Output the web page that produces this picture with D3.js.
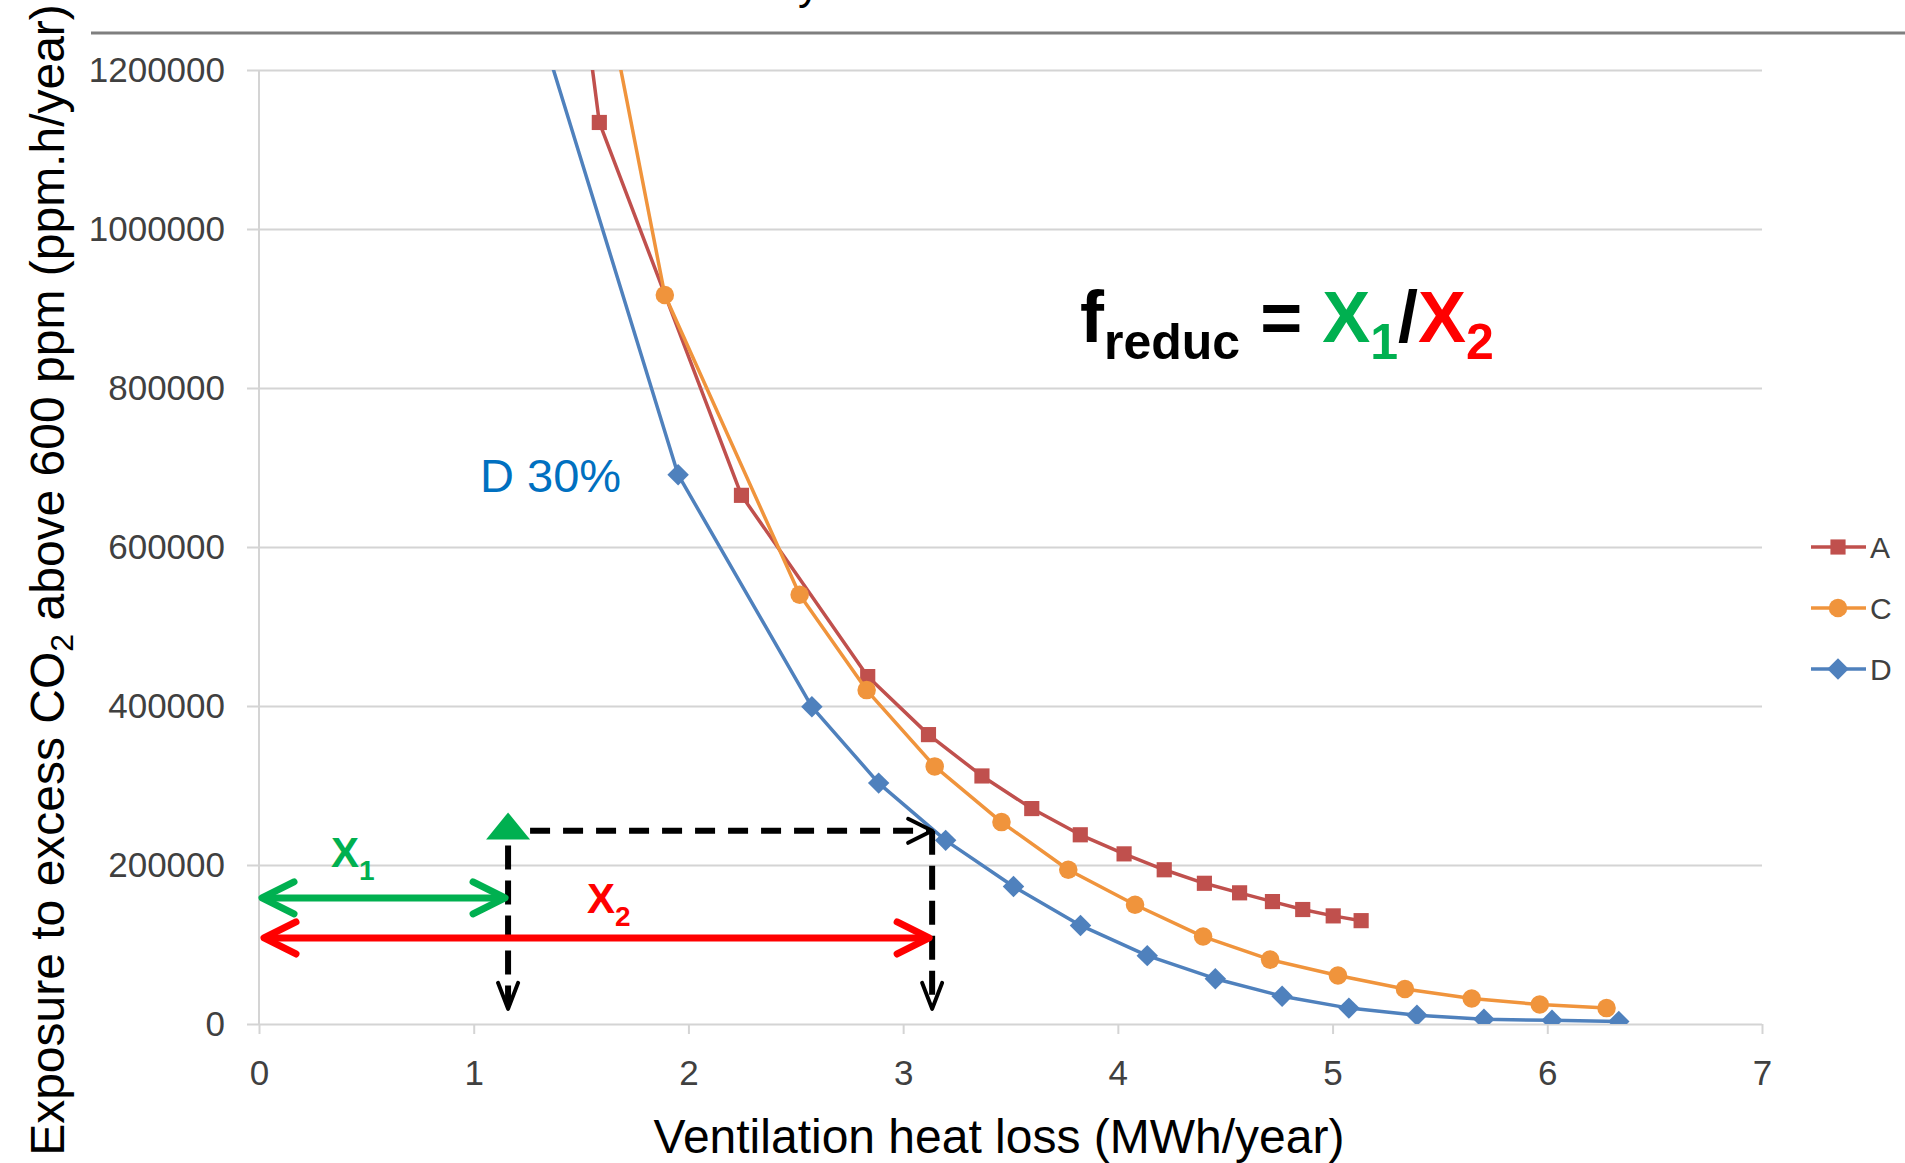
<!DOCTYPE html>
<html>
<head>
<meta charset="utf-8">
<script src="https://cdn.jsdelivr.net/npm/d3@7"></script>
<style>
  body { margin: 0; background: #fff; }
  text { font-family: "Liberation Sans", Arial, sans-serif; }
</style>
</head>
<body>
<div id="container"></div>
<script>
// series values (x = MWh/year, y = ppm.h/year)
let aX = [1.40, 1.585, 2.247, 2.835, 3.118, 3.367, 3.599, 3.825, 4.029, 4.216, 4.403, 4.567, 4.720, 4.861, 5.003, 5.133]
let aY = [1520000, 1134000, 665000, 437000, 364000, 312000, 271000, 238000, 214000, 194000, 177000, 165000, 154000, 144000, 136000, 130000]
let cX = [1.577, 1.890, 2.518, 2.830, 3.147, 3.458, 3.769, 4.080, 4.397, 4.709, 5.025, 5.337, 5.648, 5.965, 6.276]
let cY = [1350000, 917000, 540000, 420000, 324000, 254000, 194000, 150000, 110000, 81000, 61000, 44000, 32000, 24500, 20000]
let dX = [1.326, 1.952, 2.575, 2.886, 3.198, 3.514, 3.826, 4.137, 4.454, 4.765, 5.076, 5.393, 5.705, 6.022, 6.333]
let dY = [1240000, 691000, 399000, 303000, 231000, 173000, 124000, 86000, 57000, 35000, 20000, 11000, 6000, 4600, 3100]

let seriesNames = ['A', 'C', 'D']
let xTicks = [0, 1, 2, 3, 4, 5, 6, 7]
let yTicks = [0, 200000, 400000, 600000, 800000, 1000000, 1200000]

// annotation values (data units)
let x1 = 1.16, x2 = 3.135
let dashY = 243000, greenY = 158600, redY = 108200, arrowBottom = 19000, triY = 232000

let width = 1905, height = 1163
let margin = { top: 70, left: 259, right: 143, bottom: 139 }

let xScale = d3.scaleLinear().domain([0, 7]).range([margin.left, width - margin.right])
let yScale = d3.scaleLinear().domain([0, 1200000]).range([height - margin.bottom, margin.top])

let colors = { A: '#C0504D', C: '#F0943C', D: '#4F81BD' }
let series = [
  { name: 'A', pts: aX.map((x, i) => [x, aY[i]]), symbol: d3.symbolSquare, size: 230, rot: 0 },
  { name: 'C', pts: cX.map((x, i) => [x, cY[i]]), symbol: d3.symbolCircle, size: 270, rot: 0 },
  { name: 'D', pts: dX.map((x, i) => [x, dY[i]]), symbol: d3.symbolSquare, size: 230, rot: 45 }
]

let svg = d3.select('#container').append('svg')
  .attr('width', width).attr('height', height)

// slide header rule and cut-off title descender
svg.append('line')
  .attr('x1', 91).attr('x2', width).attr('y1', 33).attr('y2', 33)
  .attr('stroke', '#7f7f7f').attr('stroke-width', 3)
svg.append('text').text('y')
  .attr('x', 798).attr('y', -1).attr('font-size', 44).attr('fill', '#000')

svg.append('defs').append('clipPath').attr('id', 'plot')
  .append('rect')
  .attr('x', margin.left).attr('y', margin.top)
  .attr('width', xScale(7) - xScale(0)).attr('height', yScale(0) - yScale(1200000))

// gridlines + y axis
let yAxis = d3.axisLeft(yScale).tickValues(yTicks).tickFormat(d3.format('d'))
  .tickSize(-(xScale(7) - xScale(0)) - 12).tickPadding(14)
let gy = svg.append('g').attr('transform', 'translate(' + (margin.left - 12) + ',0)').call(yAxis)
gy.select('.domain').remove()
gy.selectAll('.tick line').attr('stroke', '#d4d4d4').attr('stroke-width', 2)
  .attr('x1', 0).attr('x2', xScale(7) - xScale(0) + 12)
gy.selectAll('.tick text').attr('font-size', 35).attr('fill', '#404040')
  .attr('font-family', '"Liberation Sans", Arial, sans-serif').attr('x', -22)

svg.append('line')
  .attr('x1', xScale(0)).attr('x2', xScale(0))
  .attr('y1', yScale(1200000)).attr('y2', yScale(0))
  .attr('stroke', '#d4d4d4').attr('stroke-width', 2)

let xAxis = d3.axisBottom(xScale).tickValues(xTicks).tickFormat(d3.format('d'))
  .tickSize(10).tickPadding(26)
let gx = svg.append('g').attr('transform', 'translate(0,' + yScale(0) + ')').call(xAxis)
gx.select('.domain').remove()
gx.selectAll('.tick line').attr('stroke', '#d4d4d4').attr('stroke-width', 2)
gx.selectAll('.tick text').attr('font-size', 35).attr('fill', '#404040')
  .attr('font-family', '"Liberation Sans", Arial, sans-serif')

// series
let line = d3.line().x(d => xScale(d[0])).y(d => yScale(d[1]))
let plot = svg.append('g').attr('clip-path', 'url(#plot)')
series.forEach(s => {
  plot.append('path').attr('d', line(s.pts))
    .attr('fill', 'none').attr('stroke', colors[s.name]).attr('stroke-width', 3.5)
    .attr('stroke-linejoin', 'round')
  plot.selectAll(null).data(s.pts).enter().append('path')
    .attr('d', d3.symbol().type(s.symbol).size(s.size))
    .attr('transform', d => 'translate(' + xScale(d[0]) + ',' + yScale(d[1]) + ') rotate(' + s.rot + ')')
    .attr('fill', colors[s.name])
})

// legend
let legend = svg.append('g')
series.forEach((s, i) => {
  let ly = 547 + i * 61
  legend.append('line').attr('x1', 1811).attr('x2', 1866).attr('y1', ly).attr('y2', ly)
    .attr('stroke', colors[s.name]).attr('stroke-width', 3.5)
  legend.append('path').attr('d', d3.symbol().type(s.symbol).size(s.size))
    .attr('transform', 'translate(1838,' + ly + ') rotate(' + s.rot + ')').attr('fill', colors[s.name])
  legend.append('text').text(s.name).attr('x', 1870).attr('y', ly + 11)
    .attr('font-size', 30).attr('fill', '#404040')
})

// axis titles
svg.append('text').text('Ventilation heat loss (MWh/year)')
  .attr('x', 999).attr('y', 1153).attr('text-anchor', 'middle')
  .attr('font-size', 48).attr('fill', '#000')

let yt = svg.append('text')
  .attr('transform', 'translate(64,580) rotate(-90)')
  .attr('text-anchor', 'middle').attr('font-size', 48).attr('fill', '#000')
yt.append('tspan').text('Exposure to excess CO')
yt.append('tspan').text('2').attr('font-size', 32).attr('dy', 9)
yt.append('tspan').text(' above 600 ppm (ppm.h/year)').attr('dy', -9)

// "D 30%" label
svg.append('text').text('D 30%')
  .attr('x', 480).attr('y', 492).attr('font-size', 47).attr('fill', '#0070C0')

// formula
let f = svg.append('text').attr('x', 1080).attr('y', 342)
  .attr('font-size', 72).attr('font-weight', 'bold')
f.append('tspan').text('f').attr('fill', '#000')
f.append('tspan').text('reduc').attr('font-size', 50).attr('dy', 17).attr('fill', '#000')
f.append('tspan').text(' = ').attr('dy', -17).attr('fill', '#000')
f.append('tspan').text('X').attr('fill', '#00B050')
f.append('tspan').text('1').attr('font-size', 50).attr('dy', 17).attr('fill', '#00B050')
f.append('tspan').text('/').attr('dy', -17).attr('fill', '#000')
f.append('tspan').text('X').attr('fill', '#FF0000')
f.append('tspan').text('2').attr('font-size', 50).attr('dy', 17).attr('fill', '#FF0000')

// annotation arrows
let ann = svg.append('g')
function chevron(x, y, dir, color, w, arm) {
  // dir: 'left', 'right', 'down'
  let p
  if (dir === 'right') p = [[x - arm, y - arm / 2], [x, y], [x - arm, y + arm / 2]]
  else if (dir === 'left') p = [[x + arm, y - arm / 2], [x, y], [x + arm, y + arm / 2]]
  else p = [[x - arm / 2.6, y - arm], [x, y], [x + arm / 2.6, y - arm]]
  ann.append('path').attr('d', d3.line()(p)).attr('fill', 'none')
    .attr('stroke', color).attr('stroke-width', w)
    .attr('stroke-linecap', 'round').attr('stroke-linejoin', 'round')
}

// dashed guides
ann.append('line')
  .attr('x1', xScale(x1) + 22).attr('x2', xScale(x2) - 4)
  .attr('y1', yScale(dashY)).attr('y2', yScale(dashY))
  .attr('stroke', '#000').attr('stroke-width', 6).attr('stroke-dasharray', '20,13')
chevron(xScale(x2), yScale(dashY), 'right', '#000', 4, 24)
ann.append('line')
  .attr('x1', xScale(x1)).attr('x2', xScale(x1))
  .attr('y1', yScale(triY) + 6).attr('y2', yScale(arrowBottom) - 4)
  .attr('stroke', '#000').attr('stroke-width', 6).attr('stroke-dasharray', '24,11')
chevron(xScale(x1), yScale(arrowBottom), 'down', '#000', 4, 26)
ann.append('line')
  .attr('x1', xScale(x2)).attr('x2', xScale(x2))
  .attr('y1', yScale(dashY)).attr('y2', yScale(arrowBottom) - 4)
  .attr('stroke', '#000').attr('stroke-width', 6).attr('stroke-dasharray', '24,11')
chevron(xScale(x2), yScale(arrowBottom), 'down', '#000', 4, 26)

// green triangle
ann.append('path')
  .attr('d', 'M0,-27 L22,0 L-22,0 Z')
  .attr('transform', 'translate(' + xScale(x1) + ',' + yScale(triY) + ')')
  .attr('fill', '#00B050')

// green double arrow (X1)
ann.append('line')
  .attr('x1', xScale(0) + 4).attr('x2', xScale(x1) - 4)
  .attr('y1', yScale(greenY)).attr('y2', yScale(greenY))
  .attr('stroke', '#00B050').attr('stroke-width', 7)
chevron(xScale(0) + 3, yScale(greenY), 'left', '#00B050', 7, 32)
chevron(xScale(x1) - 3, yScale(greenY), 'right', '#00B050', 7, 32)

// red double arrow (X2)
ann.append('line')
  .attr('x1', xScale(0) + 6).attr('x2', xScale(x2) - 4)
  .attr('y1', yScale(redY)).attr('y2', yScale(redY))
  .attr('stroke', '#FF0000').attr('stroke-width', 7)
chevron(xScale(0) + 5, yScale(redY), 'left', '#FF0000', 7, 32)
chevron(xScale(x2) - 3, yScale(redY), 'right', '#FF0000', 7, 32)

// X1 / X2 labels
let t1 = ann.append('text').attr('x', 331).attr('y', 867)
  .attr('font-size', 42).attr('font-weight', 'bold').attr('fill', '#00B050')
t1.append('tspan').text('X')
t1.append('tspan').text('1').attr('font-size', 28).attr('dy', 13)
let t2 = ann.append('text').attr('x', 587).attr('y', 913)
  .attr('font-size', 42).attr('font-weight', 'bold').attr('fill', '#FF0000')
t2.append('tspan').text('X')
t2.append('tspan').text('2').attr('font-size', 28).attr('dy', 13)
</script>
</body>
</html>
